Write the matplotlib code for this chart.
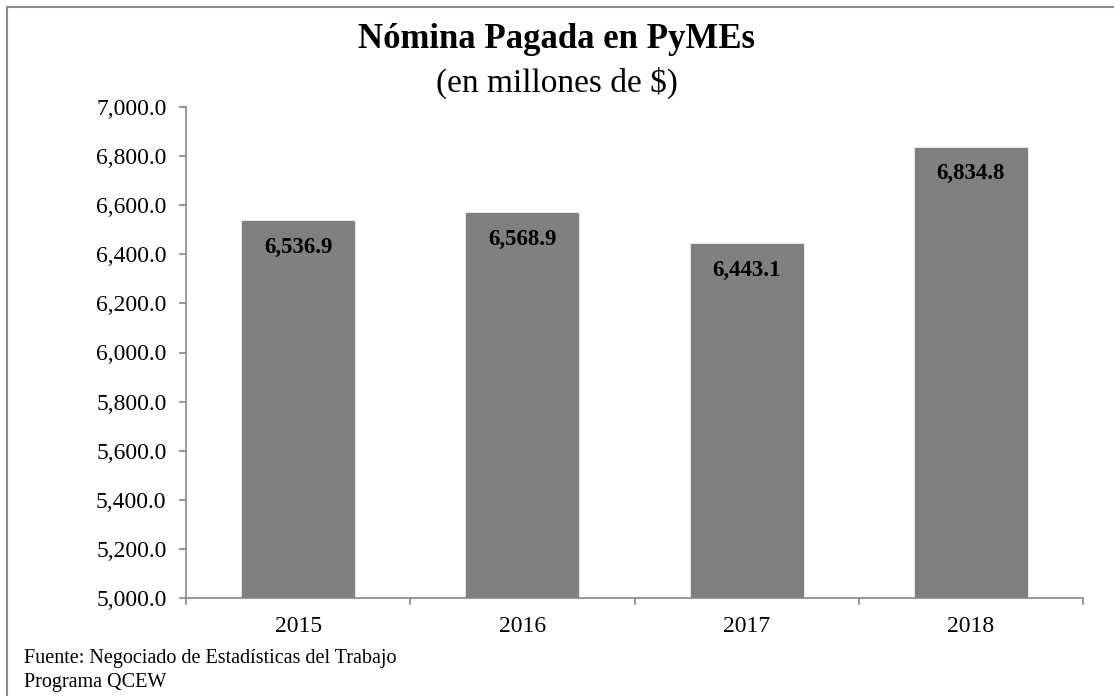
import matplotlib
matplotlib.use("Agg")
import matplotlib.pyplot as plt
from matplotlib.patches import Rectangle
from matplotlib.ticker import FuncFormatter, FixedLocator

years = ["2015", "2016", "2017", "2018"]
values = [6536.9, 6568.9, 6443.1, 6834.8]
title = "Nómina Pagada en PyMEs"
subtitle = "(en millones de $)"
source_lines = ["Fuente: Negociado de Estadísticas del Trabajo", "Programa QCEW"]

plt.rcParams["font.family"] = ["Liberation Serif", "DejaVu Serif"]

W, H = 1114, 696
fig = plt.figure(figsize=(W / 100, H / 100), dpi=100)
fig.patch.set_facecolor("white")

# outer frame
fig.add_artist(Rectangle((7 / W, -0.05), 1.2, 1 - 7 / H + 0.05, transform=fig.transFigure,
                         fill=False, edgecolor="#8c8c8c", linewidth=1.5))

ax = fig.add_axes([186 / W, 1 - 598 / H, (1083 - 186) / W, (598 - 107) / H])
x = list(range(len(years)))
ax.bar(x, values, width=0.5, color="#808080", edgecolor="#808080", zorder=2)

ax.set_ylim(5000, 7000)
ax.set_xlim(-0.5, len(years) - 0.5)
ax.set_yticks([5000 + 200 * i for i in range(11)])
ax.yaxis.set_major_formatter(FuncFormatter(lambda v, p: f"{v:,.1f}"))
ax.set_xticks(x)
ax.set_xticklabels(years)
ax.xaxis.set_minor_locator(FixedLocator([i - 0.5 for i in range(len(years) + 1)]))
ax.tick_params(axis="x", which="major", length=0, pad=13, labelsize=17)
ax.tick_params(axis="x", which="minor", length=5, color="#888888", direction="out", width=1.2)
ax.tick_params(axis="y", length=5, color="#888888", direction="out", width=1.2, labelsize=17, pad=9)

for s in ["top", "right"]:
    ax.spines[s].set_visible(False)
for s in ["left", "bottom"]:
    ax.spines[s].set_color("#888888")
    ax.spines[s].set_linewidth(1.2)

for xi, v in zip(x, values):
    ax.annotate(f"{v:,.1f}", (xi, v), xytext=(0, -19), textcoords="offset points",
                ha="center", va="center", fontsize=16.5, fontweight="bold", color="black")

fig.text(0.5, 1 - 40 / H, title, ha="center", va="center", fontsize=25, fontweight="bold")
fig.text(0.5, 1 - 83 / H, subtitle, ha="center", va="center", fontsize=24)
fig.text(24 / W, 1 - 659 / H, source_lines[0], ha="left", va="center", fontsize=14.5)
fig.text(24 / W, 1 - 682 / H, source_lines[1], ha="left", va="center", fontsize=14.5)

fig.savefig("out.png", dpi=100)
